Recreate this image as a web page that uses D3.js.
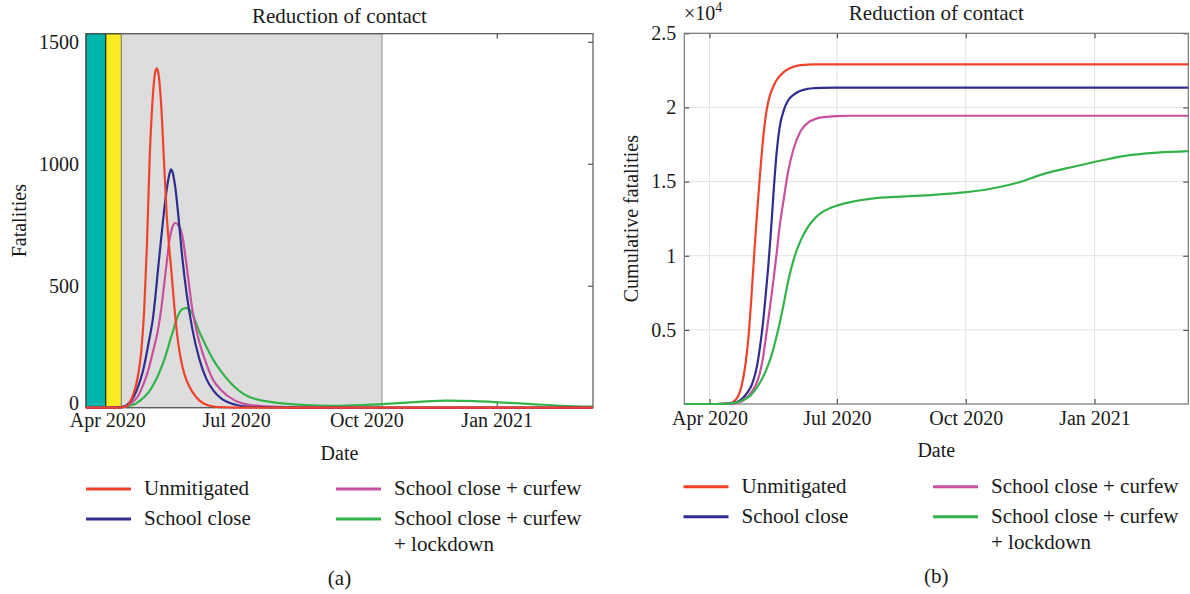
<!DOCTYPE html>
<html>
<head>
<meta charset="utf-8">
<script src="https://cdn.jsdelivr.net/npm/d3@7/dist/d3.min.js"></script>
<style>
  html, body { margin: 0; padding: 0; background: #fff; }
  svg { display: block; font-family: "Liberation Serif", "Times New Roman", serif; }
  .axis text { font-size: 20px; fill: #1a1a1a; font-family: "Liberation Serif", serif; }
  .axis path { display: none; }
</style>
</head>
<body>
<svg id="fig" width="1190" height="594"></svg>
<script>
// ---- data: days counted from 1 April 2020 ----
const seriesNames = ["Unmitigated", "School close", "School close + curfew", "School close + curfew\n+ lockdown"];
const seriesColors = ["#f0412a", "#2f2e8e", "#c8509f", "#33b34a"];

// daily fatalities, panel (a)
const dailyDays = [-15, 0, 5, 10, 14, 17, 20, 22, 24, 26, 28, 30, 32, 34, 35, 36, 38, 40, 42, 44, 45, 46, 48, 50,
  53, 56, 60, 65, 70, 75, 80, 90, 100, 120, 140, 160, 180, 200, 220, 240, 260, 280, 300, 320, 343];
const dailyUnmitigated = [0, 0, 0, 1, 8, 35, 85, 140, 230, 390, 660, 1030, 1260, 1380, 1391, 1375, 1250, 1020, 790, 640, 578, 510, 375, 270,
  170, 112, 66, 30, 12, 5, 2, 0, 0, 0, 0, 0, 0, 0, 0, 0, 0, 0, 0, 0, 0];
const dailySchool = [0, 0, 0, 2, 12, 30, 60, 90, 125, 170, 228, 290, 355, 455, 515, 575, 690, 800, 895, 960, 977, 968, 905, 800,
  615, 470, 325, 200, 118, 70, 40, 13, 4, 1, 0, 0, 0, 0, 0, 0, 0, 0, 0, 0, 0];
const dailyCurfew = [0, 0, 0, 2, 8, 20, 35, 50, 75, 103, 135, 175, 222, 270, 295, 325, 400, 495, 595, 690, 718, 740, 757, 750,
  705, 585, 405, 270, 180, 112, 75, 30, 12, 3, 1, 0, 0, 0, 0, 0, 0, 0, 0, 0, 0];
const dailyLockdown = [0, 0, 1, 3, 6, 10, 16, 24, 33, 43, 55, 70, 88, 110, 122, 134, 162, 192, 228, 268, 288, 305, 345, 378,
  404, 408, 385, 312, 250, 195, 152, 85, 45, 20, 11, 8, 11, 17, 24, 29, 27, 21, 15, 8, 4];

// cumulative fatalities, panel (b)
const cumDays = [-18, 0, 5, 10, 14, 17, 20, 22, 24, 26, 28, 30, 32, 34, 36, 38, 40, 42, 44, 46, 48, 50,
  53, 56, 60, 65, 70, 75, 80, 90, 100, 120, 140, 160, 180, 200, 220, 240, 260, 280, 300, 320, 342];
const cumUnmitigated = [0, 0, 0, 8, 40, 150, 450, 900, 1700, 2900, 4700, 7300, 10200, 12900, 15400, 17600, 19300, 20400, 21050, 21500, 21850, 22100,
  22380, 22580, 22740, 22850, 22890, 22900, 22900, 22900, 22900, 22900, 22900, 22900, 22900, 22900, 22900, 22900, 22900, 22900, 22900, 22900, 22900];
const cumSchool = [0, 0, 0, 5, 20, 60, 150, 260, 420, 640, 900, 1250, 1800, 2600, 3800, 5300, 7200, 9300, 11800, 14600, 17000, 18600,
  19800, 20450, 20850, 21120, 21250, 21300, 21320, 21330, 21330, 21335, 21340, 21340, 21340, 21340, 21340, 21340, 21340, 21340, 21340, 21340, 21340];
const cumCurfew = [0, 0, 0, 5, 15, 40, 90, 150, 240, 380, 560, 800, 1100, 1500, 2100, 3000, 4300, 5700, 7100, 8600, 10200, 11900,
  13800, 15600, 17200, 18400, 18950, 19200, 19330, 19410, 19440, 19440, 19440, 19440, 19440, 19440, 19440, 19440, 19440, 19440, 19440, 19440, 19440];
const cumLockdown = [0, 0, 0, 10, 30, 70, 130, 190, 270, 360, 480, 650, 870, 1130, 1430, 1780, 2180, 2650, 3200, 3850, 4600, 5400,
  6750, 8200, 9700, 11000, 11900, 12500, 12900, 13350, 13600, 13900, 14000, 14100, 14250, 14500, 14920, 15550, 16000, 16420, 16780, 16950, 17050];

// intervention periods shaded in panel (a)
const phaseStarts = ["2020-03-17", "2020-03-31", "2020-04-11"];
const phaseEnds = ["2020-03-31", "2020-04-11", "2020-10-12"];
const phaseFills = ["#00b5aa", "#fbec21", "#dcdddc"];
const phaseEdges = ["#222222", "#222222", "#8c8c8c"];

const dateTicks = ["2020-04-01", "2020-07-01", "2020-10-01", "2021-01-01"];
const dailyTicks = [0, 500, 1000, 1500];
const cumTicks = [5000, 10000, 15000, 20000, 25000];

// ---- helpers ----
const parse = d3.utcParse("%Y-%m-%d");
const origin = parse("2020-04-01");
const dayToDate = d => new Date(origin.getTime() + d * 864e5);
const fmtDate = d3.utcFormat("%b %Y");
const svg = d3.select("#fig");
const FONT = 20;
const LEGEND_FONT = 21;

function drawPanel(cfg) {
  const g = svg.append("g");
  const x = d3.scaleUtc().domain(cfg.xDomain).range([cfg.left, cfg.right]);
  const y = d3.scaleLinear().domain(cfg.yDomain).range([cfg.bottom, cfg.top]);
  const ticks = dateTicks.map(parse);

  // grid
  if (cfg.grid) {
    g.append("g").selectAll("line").data(ticks).join("line")
      .attr("x1", d => x(d)).attr("x2", d => x(d)).attr("y1", cfg.top).attr("y2", cfg.bottom)
      .attr("stroke", "#e2e2e2").attr("stroke-width", 1);
    g.append("g").selectAll("line").data(cfg.yTicks).join("line")
      .attr("x1", cfg.left).attr("x2", cfg.right).attr("y1", d => y(d)).attr("y2", d => y(d))
      .attr("stroke", "#e2e2e2").attr("stroke-width", 1);
  }

  // axes, ticks pointing inward
  const tk = 5;
  g.append("g").attr("class", "axis").attr("transform", `translate(0,${cfg.bottom})`)
    .call(d3.axisBottom(x).tickValues(ticks).tickFormat(fmtDate).tickSizeInner(-tk).tickSizeOuter(0).tickPadding(cfg.xPad))
    .call(a => a.selectAll("line").attr("stroke", "#333"));
  g.append("g").attr("transform", `translate(0,${cfg.top})`)
    .call(d3.axisTop(x).tickValues(ticks).tickFormat("").tickSizeInner(-tk).tickSizeOuter(0))
    .call(a => { a.select("path").remove(); a.selectAll("line").attr("stroke", "#333"); });
  g.append("g").attr("class", "axis").attr("transform", `translate(${cfg.left},0)`)
    .call(d3.axisLeft(y).tickValues(cfg.yTicks).tickFormat(cfg.yFormat).tickSizeInner(-tk).tickSizeOuter(0).tickPadding(cfg.yPad))
    .call(a => a.selectAll("line").attr("stroke", "#333"))
    .call(a => a.selectAll(".tick text").filter(d => d === 0).attr("dy", "0.1em"));
  g.append("g").attr("transform", `translate(${cfg.right},0)`)
    .call(d3.axisRight(y).tickValues(cfg.yTicks).tickFormat("").tickSizeInner(-tk).tickSizeOuter(0))
    .call(a => { a.select("path").remove(); a.selectAll("line").attr("stroke", "#333"); });

  // shaded periods
  if (cfg.phases) {
    g.append("g").selectAll("rect").data(phaseStarts).join("rect")
      .attr("x", (d, i) => x(parse(d)))
      .attr("width", (d, i) => x(parse(phaseEnds[i])) - x(parse(d)))
      .attr("y", cfg.top).attr("height", cfg.bottom - cfg.top)
      .attr("fill", (d, i) => phaseFills[i])
      .attr("stroke", (d, i) => phaseEdges[i]).attr("stroke-width", 1);
  }

  // box
  g.append("rect").attr("x", cfg.left).attr("y", cfg.top)
    .attr("width", cfg.right - cfg.left).attr("height", cfg.bottom - cfg.top)
    .attr("fill", "none").attr("stroke", cfg.boxColor).attr("stroke-width", 1.2);

  // series
  const line = d3.line().x(d => x(dayToDate(d[0]))).y(d => y(d[1])).curve(d3.curveMonotoneX);
  const clipId = "clip" + cfg.id;
  g.append("clipPath").attr("id", clipId).append("rect")
    .attr("x", cfg.left).attr("y", cfg.top - 2).attr("width", cfg.right - cfg.left).attr("height", cfg.bottom - cfg.top + 4);
  const lg = g.append("g").attr("clip-path", `url(#${clipId})`);
  cfg.order.forEach(i => {
    lg.append("path")
      .datum(cfg.days.map((d, k) => [d, cfg.series[i][k]]))
      .attr("d", line).attr("fill", "none")
      .attr("stroke", seriesColors[i]).attr("stroke-width", 2.2).attr("stroke-linejoin", "round");
  });

  // labels
  const cx = (cfg.left + cfg.right) / 2;
  g.append("text").attr("x", cx).attr("y", cfg.titleY).attr("text-anchor", "middle")
    .attr("font-size", 21).attr("fill", "#1a1a1a").text("Reduction of contact");
  g.append("text").attr("x", cx).attr("y", cfg.xLabelY).attr("text-anchor", "middle")
    .attr("font-size", FONT).attr("fill", "#1a1a1a").text("Date");
  g.append("text").attr("transform", `translate(${cfg.yLabelX},${(cfg.top + cfg.bottom) / 2}) rotate(-90)`)
    .attr("text-anchor", "middle").attr("font-size", FONT).attr("fill", "#1a1a1a").text(cfg.yLabel);

  // legend
  const L = cfg.legend;
  const spots = [
    [L.x0, L.y0], [L.x0, L.y0 + L.dy], [L.x1, L.y0], [L.x1, L.y0 + L.dy]
  ];
  seriesNames.forEach((name, i) => {
    const [lx, ly] = spots[i];
    g.append("line").attr("x1", lx).attr("x2", lx + 45).attr("y1", ly).attr("y2", ly)
      .attr("stroke", seriesColors[i]).attr("stroke-width", 3);
    const t = g.append("text").attr("x", lx + 58).attr("y", ly + 6)
      .attr("font-size", LEGEND_FONT).attr("fill", "#1a1a1a");
    name.split("\n").forEach((part, j) => {
      t.append("tspan").attr("x", lx + 58).attr("dy", j ? 26 : 0).text(part);
    });
  });
  g.append("text").attr("x", cx).attr("y", cfg.capY).attr("text-anchor", "middle")
    .attr("font-size", LEGEND_FONT).attr("fill", "#1a1a1a").text(cfg.caption);
  return { g, x, y };
}

drawPanel({
  id: "a", left: 86, right: 593, top: 33.7, bottom: 407.7,
  xDomain: [parse("2020-03-17"), parse("2021-03-10")],
  yDomain: [0, 1533], yTicks: dailyTicks, yFormat: d3.format("d"),
  xPad: 5, yPad: 7, boxColor: "#555",
  phases: true, grid: false,
  days: dailyDays, series: [dailyUnmitigated, dailySchool, dailyCurfew, dailyLockdown],
  order: [3, 2, 1, 0],
  titleY: 23, xLabelY: 460, yLabelX: 26, yLabel: "Fatalities",
  legend: { x0: 86, x1: 336, y0: 489, dy: 30 },
  caption: "(a)", capY: 585
});

const right = drawPanel({
  id: "b", left: 684.3, right: 1188.3, top: 33.3, bottom: 404,
  xDomain: [parse("2020-03-14"), parse("2021-03-09")],
  yDomain: [0, 25000], yTicks: cumTicks, yFormat: d => d3.format("~g")(d / 1e4),
  xPad: 7, yPad: 8, boxColor: "#777",
  phases: false, grid: true,
  days: cumDays, series: [cumUnmitigated, cumSchool, cumCurfew, cumLockdown],
  order: [0, 1, 2, 3],
  titleY: 20, xLabelY: 457, yLabelX: 638, yLabel: "Cumulative fatalities",
  legend: { x0: 683.5, x1: 933, y0: 486.7, dy: 30 },
  caption: "(b)", capY: 583
});

// exponent marker above the cumulative axis
const ex = right.g.append("text").attr("x", 684).attr("y", 20).attr("font-size", FONT).attr("fill", "#1a1a1a");
ex.append("tspan").text("\u00d710");
ex.append("tspan").attr("dy", -8).attr("font-size", 14).text("4");
</script>
</body>
</html>
